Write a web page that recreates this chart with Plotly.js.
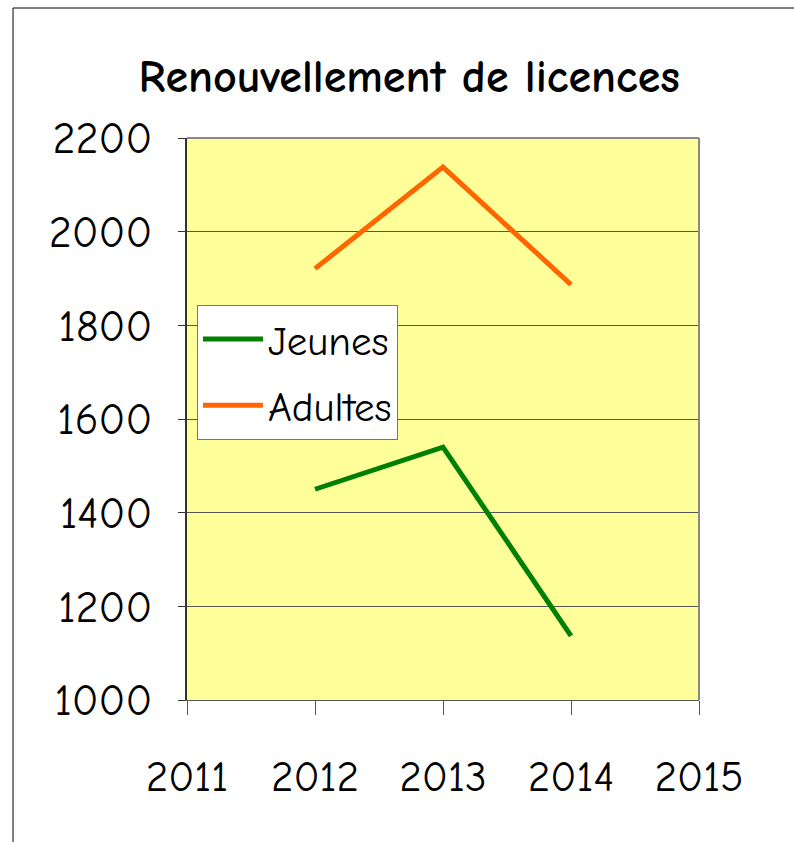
<!DOCTYPE html>
<html>
<head>
<meta charset="utf-8">
<script src="https://cdn.plot.ly/plotly-3.0.1.min.js"></script>
<style>
html,body{margin:0;padding:0;background:#fff;}
#chart{width:794px;height:842px;}
</style>
</head>
<body>
<div id="chart"></div>
<script>
const years = [2012, 2013, 2014];
const jeunes = [1450, 1540, 1137];
const adultes = [1921, 2138, 1887];
const seriesNames = ["Jeunes", "Adultes"];
const xTicks = [2011, 2012, 2013, 2014, 2015];
const yTicks = [1000, 1200, 1400, 1600, 1800, 2000, 2200];

const FONT = '"Comic Sans MS", "Comic Neue", "DejaVu Sans", sans-serif';

const traces = [
  {x: years, y: jeunes, name: seriesNames[0], type: 'scatter', mode: 'lines',
   line: {color: '#008000', width: 5}, legendgroup: 'a'},
  {x: years, y: adultes, name: seriesNames[1], type: 'scatter', mode: 'lines',
   line: {color: '#FF6600', width: 5}, legendgroup: 'b'}
];

const layout = {
  width: 794, height: 842,
  margin: {l: 187, r: 95, t: 138, b: 142},
  paper_bgcolor: '#ffffff',
  plot_bgcolor: '#FFFF99',
  font: {family: FONT, color: '#000'},
  title: {text: '<b>Renouvellement de licences</b>', font: {family: FONT, size: 46, color: '#000', weight: 'bold'},
          x: 0.434, xref: 'paper', xanchor: 'center', y: 0.910, yref: 'container', yanchor: 'middle'},
  xaxis: {
    range: [2011, 2015], tickvals: xTicks, ticktext: xTicks.map(String),
    showgrid: false, zeroline: false,
    showline: true, linecolor: '#555', linewidth: 1, mirror: false,
    ticks: 'outside', ticklen: 14, tickcolor: '#555', tickwidth: 1,
    ticklabelstandoff: 24,
    tickfont: {family: FONT, size: 43, color: '#000'}
  },
  yaxis: {
    range: [1000, 2200], tickvals: yTicks, ticktext: yTicks.map(String),
    showgrid: true, gridcolor: '#555', gridwidth: 1, zeroline: false,
    showline: true, linecolor: '#333', linewidth: 2,
    ticks: 'outside', ticklen: 7, tickcolor: '#333', tickwidth: 1,
    ticklabelstandoff: 17,
    tickfont: {family: FONT, size: 44, color: '#000'}
  },
  showlegend: true,
  legend: {
    x: 0.0195, xanchor: 'left', y: 0.703, yanchor: 'top',
    bgcolor: '#ffffff', bordercolor: '#777', borderwidth: 1,
    font: {family: FONT, size: 41, color: '#000'},
    itemwidth: 60,
    traceorder: 'grouped', tracegroupgap: 10
  },
  shapes: [
    {type: 'line', xref: 'paper', yref: 'paper', x0: 1, x1: 1, y0: 0, y1: 1,
     line: {color: '#888', width: 2}},
    {type: 'line', xref: 'paper', yref: 'paper', x0: 0, x1: 1, y0: 1, y1: 1,
     line: {color: '#888', width: 2}},
    {type: 'line', xref: 'paper', yref: 'paper', x0: -0.3398, x1: -0.3398, y0: -0.3, y1: 1.2313,
     line: {color: '#000', width: 1}},
    {type: 'line', xref: 'paper', yref: 'paper', x0: -0.3398, x1: 1.3, y0: 1.2313, y1: 1.2313,
     line: {color: '#000', width: 1}}
  ]
};

Plotly.newPlot('chart', traces, layout, {displayModeBar: false, staticPlot: true});
</script>
</body>
</html>
